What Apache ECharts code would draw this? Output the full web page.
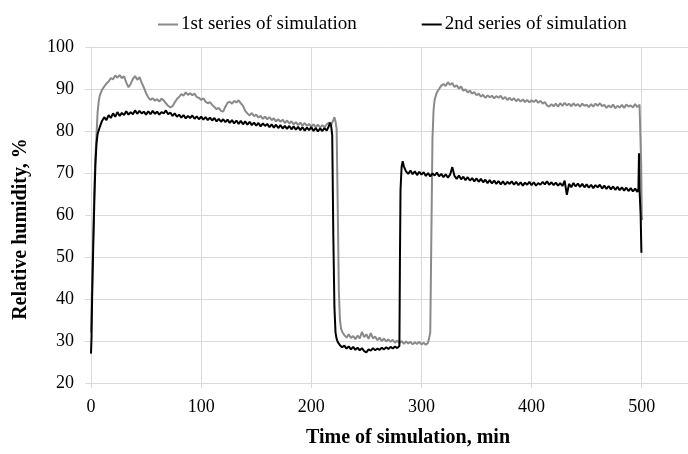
<!DOCTYPE html>
<html>
<head>
<meta charset="utf-8">
<script src="https://cdn.jsdelivr.net/npm/echarts@6/dist/echarts.min.js"></script>
<style>
  html, body { margin: 0; padding: 0; background: #fff; }
  #humidityChart { width: 688px; height: 454px; }
</style>
</head>
<body>
<div id="humidityChart"></div>
<script>
  // 1st series of simulation (grey)
  var time1 = [0,1,2,3,4,5,6,7,8,10,12,14,16,18,20,22,24,26,28,30,32,34,36,38,40,42,44,46,48,50,
    52,54,56,58,60,62,64,66,68,70,72,74,76,78,80,82,84,86,88,90,92,94,96,98,100,
    102,104,106,108,110,112,114,116,118,120,122,124,126,128,130,132,134,136,138,140,
    142,144,146,148,150,152,154,156,158,160,162,164,166,168,170,172,174,176,178,180,
    182,184,186,188,190,192,194,196,198,200,202,204,206,208,210,212,214,216,218,220,221,222,223,224,225,226,227,228,
    230,232,234,236,238,240,242,244,246,248,250,252,254,256,258,260,262,264,266,268,270,
    272,274,276,278,280,282,284,286,288,290,292,294,296,298,300,302,304,306,307,308,309,310,311,312,
    314,316,318,320,322,324,326,328,330,332,334,336,338,340,342,344,346,348,350,
    352,354,356,358,360,362,364,366,368,370,372,374,376,378,380,382,384,386,388,390,
    392,394,396,398,400,402,404,406,408,410,412,414,416,418,420,422,424,426,428,430,
    432,434,436,438,440,442,444,446,448,450,452,454,456,458,460,462,464,466,468,470,
    472,474,476,478,480,482,484,486,488,490,492,494,496,498,499,499.5,500,500.5];
  var hum1 = [32,44,55,66,74,79,84.5,87,88.5,89.8,90.6,91.3,91.8,92.6,92.3,93.2,92.7,93.3,92.6,93.0,91.6,90.4,91.2,92.4,93.1,92.2,92.8,91.5,90.3,89.0,
    88.0,87.4,87.8,87.2,87.6,87.0,87.7,87.3,86.6,86.0,85.6,85.9,86.8,87.6,88.1,88.8,88.4,89.2,88.6,89.0,88.5,88.9,88.1,87.9,87.4,
    87.8,87.0,86.6,86.9,86.2,85.7,85.2,85.5,84.8,84.6,85.8,86.7,87.0,86.5,87.2,86.8,87.3,86.6,86.0,84.8,
    84.2,83.7,84.3,83.5,83.9,83.2,83.6,82.9,83.4,82.8,83.3,82.6,83.0,82.3,82.8,82.2,82.7,81.9,82.5,81.8,
    82.3,81.6,82.1,81.4,82.0,81.3,81.9,81.2,81.7,81.0,81.6,80.9,81.5,80.8,81.4,80.9,81.6,82.0,81.5,82.6,83.3,82.2,80.5,62,42,35,33,32.2,
    31.4,30.8,31.6,30.7,31.2,30.4,31.3,30.6,32.2,30.9,31.6,30.5,31.9,30.6,31.1,30.2,30.8,30.0,30.6,29.9,30.4,
    29.8,30.3,29.6,30.1,29.5,30.0,29.3,29.9,29.4,29.8,29.2,29.7,29.3,29.8,29.2,29.6,29.1,29.6,29.3,32,55,78,85,87.5,
    89.2,90.0,90.8,91.2,90.7,91.6,91.0,91.4,90.5,90.9,90.1,90.6,89.6,89.9,89.2,89.6,88.9,89.3,88.5,
    88.9,88.2,88.6,87.9,88.5,88.0,88.4,87.8,88.3,87.9,88.4,87.6,88.1,87.4,87.9,87.3,87.8,87.1,87.6,87.0,
    87.5,86.9,87.4,86.8,87.3,86.9,87.4,86.7,87.2,86.5,86.9,86.1,85.8,86.4,85.9,86.5,85.8,86.6,86.0,86.7,
    86.1,86.5,85.9,86.6,86.0,86.4,85.8,86.5,86.0,86.3,85.7,86.4,85.8,86.5,86.0,86.6,85.9,86.2,85.5,86.1,
    85.6,86.3,85.4,86.0,85.6,86.2,85.5,86.3,85.8,86.1,85.6,86.4,85.7,86.3,86.6,72,60,58.8];

  // 2nd series of simulation (black)
  var time2 = [0,0.5,1,2,3,4,5,6,8,10,12,14,16,18,20,22,24,26,28,30,32,34,36,38,40,42,44,46,48,50,
    52,54,56,58,60,62,64,66,68,70,72,74,76,78,80,82,84,86,88,90,92,94,96,98,100,
    102,104,106,108,110,112,114,116,118,120,122,124,126,128,130,132,134,136,138,140,
    142,144,146,148,150,152,154,156,158,160,162,164,166,168,170,172,174,176,178,180,
    182,184,186,188,190,192,194,196,198,200,202,204,206,208,210,212,214,216,217,218,219,220,221,222,223,224,226,228,
    230,232,234,236,238,240,242,244,246,248,250,252,254,256,258,260,262,264,266,268,270,
    272,274,276,278,280,280.5,281,282,283,284,286,288,290,292,294,296,298,300,302,304,306,308,310,
    312,314,316,318,320,322,324,326,328,330,332,334,336,338,340,342,344,346,348,350,
    352,354,356,358,360,362,364,366,368,370,372,374,376,378,380,382,384,386,388,390,
    392,394,396,398,400,402,404,406,408,410,412,414,416,418,420,422,424,426,428,430,
    432,434,436,438,440,442,444,446,448,450,452,454,456,458,460,462,464,466,468,470,
    472,474,476,478,480,482,484,486,488,490,492,494,496,497,497.5,498,499,499.7];
  var hum2 = [27,31,40,52,63,72,77,79.3,81.0,82.4,83.3,82.6,83.8,83.1,84.2,83.4,84.5,83.6,84.3,83.8,84.7,83.9,84.5,84.0,84.9,84.1,84.8,84.2,84.6,83.9,
    84.7,84.0,84.8,84.1,84.6,83.9,84.5,84.2,84.9,84.0,84.4,83.6,84.2,83.4,83.9,83.2,83.8,83.0,83.6,83.1,83.7,82.9,83.5,82.8,83.4,
    82.7,83.3,82.6,83.2,82.5,83.1,82.3,82.9,82.2,82.8,82.1,82.7,81.9,82.6,81.8,82.5,81.7,82.4,81.6,82.3,
    81.5,82.2,81.4,82.0,81.3,81.9,81.1,81.8,81.2,81.7,80.9,81.6,80.8,81.5,80.7,81.4,80.6,81.2,80.5,81.2,
    80.4,81.1,80.3,81.0,80.2,80.9,80.1,80.8,80.2,80.9,80.0,80.7,79.9,80.6,80.0,80.7,80.1,81.2,82.0,81.3,79,55,38,32,30.5,29.8,29.0,28.5,
    28.9,28.2,28.7,28.0,28.6,27.9,28.4,27.8,28.3,27.6,27.3,28.0,27.7,28.3,27.8,28.2,27.9,28.4,28.0,28.5,28.1,
    28.6,28.2,28.7,28.3,28.8,50,66,71.5,72.8,71.6,70.4,69.8,70.6,69.7,70.4,69.5,70.3,69.6,70.2,69.3,70.0,69.2,69.9,
    69.4,70.1,69.2,69.8,69.0,69.7,68.9,69.6,71.4,69.3,68.6,69.4,68.5,69.1,68.3,69.0,68.2,68.8,68.0,68.7,
    67.9,68.6,67.8,68.4,67.6,68.3,67.5,68.2,67.4,68.1,67.3,68.0,67.2,67.9,67.4,68.0,67.2,67.9,67.1,67.8,
    67.0,67.7,67.2,67.9,67.1,67.8,67.0,67.6,67.2,67.9,67.3,68.0,67.2,67.8,67.1,67.7,67.0,67.6,66.9,68.2,
    64.8,67.4,66.6,67.6,66.8,67.5,66.7,67.4,66.6,67.3,66.5,67.2,66.4,67.1,66.6,67.2,66.3,67.0,66.2,66.9,
    66.1,66.8,66.0,66.7,65.9,66.6,65.8,66.5,65.7,66.4,65.6,66.3,65.5,66.2,74.7,66.0,60,51];

  var seriesNames = ['1st series of simulation', '2nd series of simulation'];
  var seriesColors = ['#8a8a8a', '#000000'];

  function pairs(xs, ys) {
    var out = [];
    for (var i = 0; i < xs.length; i++) {
      out.push([xs[i], ys[i]]);
    }
    return out;
  }

  var serif = '"Liberation Serif", "Times New Roman", serif';
  var myChart = echarts.init(document.getElementById('humidityChart'));
  var options = {
    backgroundColor: '#fff',
    animation: false,
    legend: {
      left: 153,
      top: 10,
      icon: 'rect',
      itemWidth: 20,
      itemHeight: 2,
      itemGap: 65,
      textStyle: { fontFamily: serif, fontSize: 19, color: '#000', padding: [0, 0, 0, -2] },
      data: seriesNames
    },
    grid: {
      left: 91,
      right: 0,
      top: 47,
      bottom: 71
    },
    xAxis: {
      type: 'value',
      min: 0,
      max: 542,
      interval: 100,
      name: 'Time of simulation, min',
      nameLocation: 'middle',
      nameGap: 45,
      nameTextStyle: { fontFamily: serif, fontSize: 20, fontWeight: 'bold', color: '#000', padding: [0, 0, 0, 37] },
      axisLine: { lineStyle: { color: '#d9d9d9' } },
      axisTick: { show: true, length: 5, lineStyle: { color: '#d9d9d9' } },
      axisLabel: { fontFamily: serif, fontSize: 18, color: '#000', margin: 15, showMaxLabel: false },
      splitLine: { show: true, lineStyle: { color: '#d9d9d9' } }
    },
    yAxis: {
      type: 'value',
      min: 20,
      max: 100,
      interval: 10,
      name: 'Relative humidity, %',
      nameLocation: 'middle',
      nameGap: 60,
      nameTextStyle: { fontFamily: serif, fontSize: 20, fontWeight: 'bold', color: '#000', padding: [0, 28, 0, 0] },
      axisLine: { show: true, lineStyle: { color: '#d9d9d9' } },
      axisTick: { show: true, length: 6, lineStyle: { color: '#d9d9d9' } },
      axisLabel: { fontFamily: serif, fontSize: 18, color: '#000', margin: 17 },
      splitLine: { show: true, lineStyle: { color: '#d9d9d9' } }
    },
    series: [{
      name: seriesNames[0],
      type: 'line',
      symbol: 'none',
      data: pairs(time1, hum1),
      itemStyle: { color: seriesColors[0] },
      lineStyle: { color: seriesColors[0], width: 2 }
    }, {
      name: seriesNames[1],
      type: 'line',
      symbol: 'none',
      data: pairs(time2, hum2),
      itemStyle: { color: seriesColors[1] },
      lineStyle: { color: seriesColors[1], width: 2 }
    }]
  };
  myChart.setOption(options, true);
  window.addEventListener('resize', function () {
    myChart.resize();
  });
</script>
</body>
</html>
